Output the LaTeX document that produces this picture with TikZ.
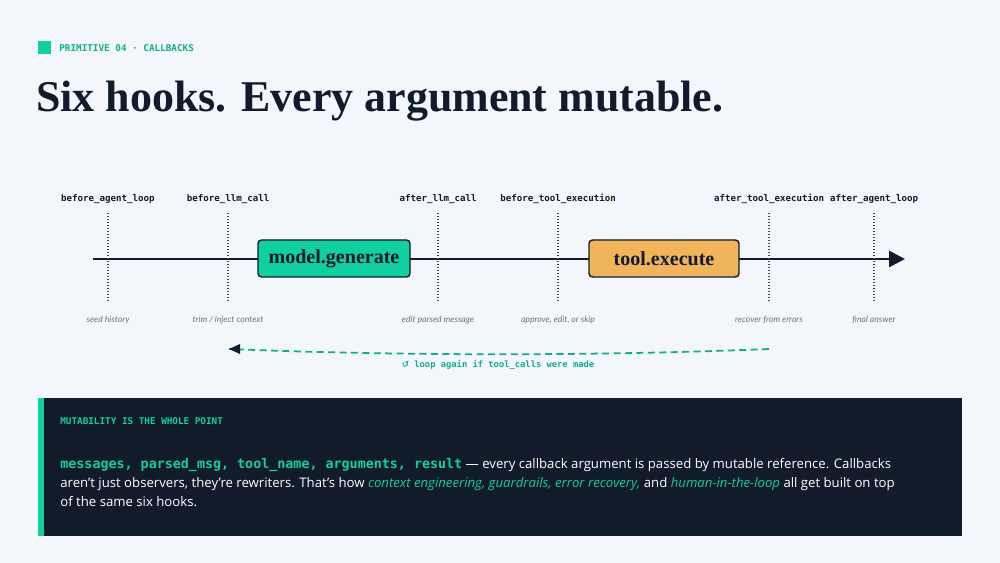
\documentclass[tikz,border=0pt]{standalone}
\usepackage{fontspec}
\setmainfont{Open Sans}
\newfontfamily\titlef{Liberation Serif}
\newfontfamily\monof{DejaVu Sans Mono}
\newfontfamily\labf{Lato}
\newfontfamily\symf{DejaVu Sans}
\usetikzlibrary{arrows.meta}
\definecolor{bg}{HTML}{F3F6FB}
\definecolor{navy}{HTML}{111B2C}
\definecolor{mint}{HTML}{12CFA0}
\definecolor{ora}{HTML}{F0B55A}
\definecolor{greyt}{HTML}{6B7280}
\tikzset{
 hook/.style={font=\monof\bfseries\fontsize{5.2}{6}\selectfont, text=navy},
 note/.style={font=\labf\itshape\fontsize{4.9}{5}\selectfont, text=greyt},
 vline/.style={draw=navy!80, densely dotted, line width=0.7pt},
 proc/.style={draw=navy, line width=0.8pt, rounded corners=2pt, font=\titlef\bfseries\fontsize{11.4}{13}\selectfont, text=navy},
 body/.style={anchor=west, text=white, font=\fontsize{7.5}{9}\selectfont, inner sep=0},
}
\begin{document}
\begin{tikzpicture}[x=0.02cm,y=-0.02cm]
\fill[bg] (0,0) rectangle (1000,563);
\useasboundingbox (0,0) rectangle (1000,563);
\fill[mint] (38,41) rectangle (51,54);
\node[anchor=west, inner sep=0, text=mint!85!black, font=\monof\bfseries\fontsize{5.3}{6}\selectfont] (hdr) at (59,48) {PRIMITIVE 04 · CALLBACKS};
\node[anchor=west, inner sep=0, text=navy, font=\titlef\bfseries\fontsize{25}{28}\selectfont] (title) at (36,101) {Six hooks. Every argument mutable.};
% axis
\coordinate (a0) at (93,259);
\coordinate (a1) at (905,259);
\draw[navy, line width=1.6pt, -{Triangle[length=9pt,width=9pt]}] (a0) -- (a1);
% hooks
\foreach \n/\x/\t/\d in {h1/108/before\_agent\_loop/{seed history}, h2/228/before\_llm\_call/{trim / inject context}, h3/438/after\_llm\_call/{edit parsed message}, h4/558/before\_tool\_execution/{approve, edit, or skip}, h5/769/after\_tool\_execution/{recover from errors}, h6/874/after\_agent\_loop/{final answer}}{
 \node[hook] (\n) at (\x,199) {\t};
 \coordinate (\n t) at (\x,213);
 \coordinate (\n b) at (\x,302);
 \draw[vline] (\n t) -- (\n b);
 \node[note] (\n n) at (\x,320) {\d};
}
\node[proc, fill=mint, minimum width=152*0.02cm, minimum height=37*0.02cm] (gen) at (334,258.5) {model.generate};
\node[proc, fill=ora, minimum width=150*0.02cm, minimum height=37*0.02cm] (exe) at (664,258.5) {tool.execute};
% loop
\coordinate (ls) at (769,349);
\coordinate (le) at (229,349);
\draw[mint!85!black, line width=1pt, dash pattern=on 4pt off 2.5pt] (ls) .. controls (600,356) and (400,356) .. (le);
\fill[navy] (229,349) -- (240,344) -- (240,354) -- cycle;
\node[text=mint!85!black, font=\monof\bfseries\fontsize{5}{6}\selectfont] (lt) at (498,365) {{\symf ↺}\ loop again if tool\_calls were made};
% panel
\fill[navy] (38,398) rectangle (962,536);
\fill[mint] (38,398) rectangle (44,536);
\node[anchor=west, inner sep=0, text=mint, font=\monof\bfseries\fontsize{5.3}{6}\selectfont] (pt) at (60,421) {MUTABILITY IS THE WHOLE POINT};
\node[body] (l1) at (60,465) {{\monof\bfseries\color{mint}\fontsize{7.6}{9}\selectfont messages, parsed\_msg, tool\_name, arguments, result} — every callback argument is passed by mutable reference. Callbacks};
\node[body] (l2) at (60,484) {aren't just observers, they're rewriters. That's how {\itshape\color{mint}context engineering, guardrails, error recovery,} and {\itshape\color{mint}human-in-the-loop} all get built on top};
\node[body] (l3) at (60,502) {of the same six hooks.};
\end{tikzpicture}
\end{document}
